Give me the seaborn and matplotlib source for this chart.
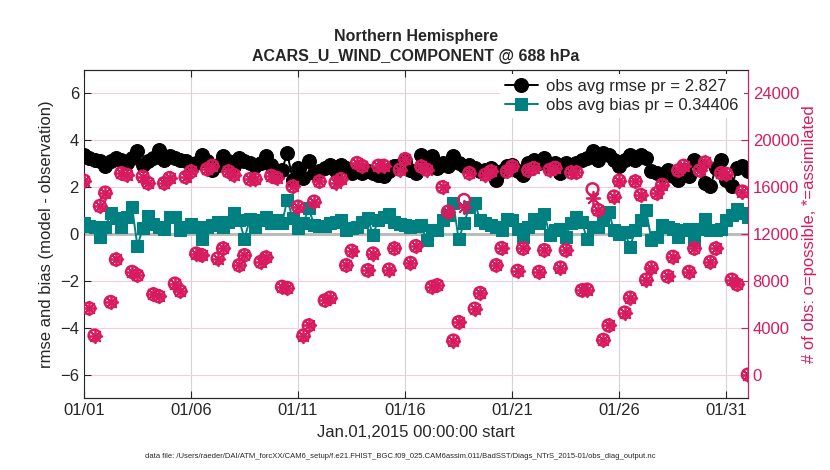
import pandas as pd
import numpy as np
import matplotlib
matplotlib.use('Agg')
import matplotlib.pyplot as plt
import matplotlib.dates as mdates
import seaborn as sns

# --- valores (6 em 6 horas, 01/01 00Z ate 01/02 00Z) ---
rmse = [3.39, 3.24, 3.17, 3.10, 2.91, 3.10, 3.24, 3.17, 3.03, 3.24,
        3.53, 2.96, 3.10, 3.24, 3.60, 3.17, 3.31, 3.24, 3.17, 3.10,
        3.00, 3.03, 3.39, 3.10, 2.74, 2.96, 3.31, 3.10, 2.89, 3.24,
        3.10, 3.03, 2.89, 3.03, 3.31, 2.96, 2.53, 2.74, 3.45, 2.31,
        2.80, 2.39, 3.10, 2.60, 2.67, 2.81, 2.96, 2.67, 2.96, 2.81,
        2.60, 2.67, 2.60, 2.67, 2.60, 2.53, 2.46, 2.67, 2.89, 2.96,
        3.10, 2.74, 2.60, 3.39, 3.17, 3.31, 2.81, 3.03, 2.89, 3.31,
        3.03, 2.89, 2.96, 2.81, 2.67, 2.74, 2.81, 2.31, 2.67, 2.89,
        2.96, 2.67, 2.53, 3.03, 3.17, 3.03, 3.24, 2.89, 3.03, 2.60,
        3.03, 2.96, 3.03, 3.17, 3.24, 3.53, 3.17, 3.46, 3.39, 3.17,
        2.92, 3.17, 3.39, 3.17, 3.39, 3.24, 2.67, 2.60, 2.46, 2.74,
        2.46, 2.31, 2.74, 2.46, 3.17, 2.96, 2.17, 2.03, 2.81, 3.17,
        2.31, 2.03, 2.81, 2.89, 2.67]

bias = [0.49, 0.34, 0.29, -0.14, 0.29, 0.89, 0.67, 0.29, 0.71, 1.17,
        -0.51, 0.24, 0.76, 0.44, 0.30, 0.20, 0.71, 0.71, 0.17, 0.29,
        0.42, 0.29, -0.23, 0.29, 0.39, 0.53, 0.29, 0.53, 0.89, 0.60,
        -0.19, 0.63, 0.29, 0.60, 0.71, 0.46, 0.60, 0.46, 1.46, 0.67,
        0.25, 0.46, 1.10, 0.39, 0.34, 0.34, 0.49, 0.53, 0.60, 0.17,
        0.24, 0.29, 0.53, 0.67, -0.04, 0.60, 0.74, 0.86, 0.53, 0.43,
        0.40, 0.31, 0.34, 0.39, -0.26, 0.17, 0.17, 0.60, 0.81, 1.31,
        -0.23, 0.46, 1.17, 1.34, 0.60, 0.49, 0.39, 0.31, 0.17, 0.63,
        0.60, 0.20, -0.11, 0.29, 0.63, 0.46, 0.86, -0.04, 0.17, 0.20,
        -0.11, 0.46, 0.71, 0.53, -0.23, 0.29, 0.29, 0.60, 0.96, 0.17,
        0.00, 0.10, -0.54, 0.17, 0.60, 1.03, -0.26, -0.11, 0.39, 0.29,
        0.20, -0.11, 0.17, 0.20, -0.26, 0.20, 0.63, 0.17, 0.17, 0.20,
        0.60, 0.81, 1.06, 0.89, 0.74]

obs_possible = [16570, 5660, 3340, 14400, 15540, 6200, 9830, 17200, 17060, 8770,
                8480, 16910, 16350, 6860, 6690, 16350, 16780, 7770, 7140, 16860,
                17340, 10340, 10200, 17540, 17830, 9910, 10770, 17340, 17060, 9340,
                10200, 16690, 16700, 9620, 10000, 16970, 16800, 7500, 7400, 16060,
                14340, 3340, 4200, 14770, 16490, 6340, 6570, 16400, 16690, 9340,
                10570, 18060, 17800, 8910, 10340, 17830, 17830, 8970, 10770, 17490,
                18400, 9540, 10970, 17770, 17500, 7490, 7630, 16000, 13910, 2910,
                4480, 14910, 17200, 5630, 6970, 17060, 17340, 9340, 10800, 17340,
                17770, 8860, 10770, 17430, 17630, 8770, 10630, 17480, 17660, 9140,
                10630, 17260, 17260, 7200, 7260, 15830, 14060, 2970, 4200, 15200,
                16560, 5300, 6570, 16490, 15340, 8110, 9140, 15490, 16200, 8400,
                10060, 17430, 17830, 8770, 10770, 17430, 18110, 9620, 10770, 17200,
                17140, 8110, 7710, 15630, 0]

obs_used = [16570, 5660, 3340, 14400, 15540, 6200, 9830, 17200, 17060, 8770,
            8480, 16910, 16350, 6860, 6690, 16350, 16780, 7770, 7140, 16860,
            17340, 10340, 10200, 17540, 17830, 9910, 10770, 17340, 17060, 9340,
            10200, 16690, 16700, 9620, 10000, 16970, 16800, 7500, 7400, 16060,
            14340, 3340, 4200, 14770, 16490, 6340, 6570, 16400, 16690, 9340,
            10570, 18060, 17800, 8910, 10340, 17830, 17830, 8970, 10770, 17490,
            18400, 9540, 10970, 17770, 17500, 7490, 7630, 16000, 13910, 2910,
            4480, 14300, 17200, 5630, 6970, 17060, 17340, 9340, 10800, 17340,
            17770, 8860, 10770, 17430, 17630, 8770, 10630, 17480, 17660, 9140,
            10630, 17260, 17260, 7200, 7260, 15100, 14060, 2970, 4200, 15200,
            16560, 5300, 6570, 16490, 15340, 8110, 9140, 15490, 16200, 8400,
            10060, 17430, 17830, 8770, 10770, 17430, 18110, 9620, 10770, 17200,
            17140, 8110, 7710, 15630, 0]

rmse_label = 'obs avg rmse pr = 2.827'
bias_label = 'obs avg bias pr = 0.34406'
x_ticks = ['2015-01-01', '2015-01-06', '2015-01-11', '2015-01-16',
           '2015-01-21', '2015-01-26', '2015-01-31']
left_ticks = [-6, -4, -2, 0, 2, 4, 6]
right_ticks = [0, 4000, 8000, 12000, 16000, 20000, 24000]

times = pd.date_range('2015-01-01 00:00', periods=len(rmse), freq='6h')
df = pd.DataFrame({'time': times, 'rmse': rmse, 'bias': bias,
                   'possible': obs_possible, 'used': obs_used})

MAGENTA = '#d81b5e'
TEAL = '#008080'

sns.set_style('ticks')
plt.rcParams['font.family'] = ['Liberation Sans', 'DejaVu Sans']

fig = plt.figure(figsize=(8.3, 4.7), dpi=100)
ax = fig.add_axes([0.101, 0.153, 0.800, 0.698])

# grades e linha do zero
ax.xaxis.grid(True, color='#d4d4d4', lw=0.8)
ax.yaxis.grid(True, color='#f3cfdc', lw=0.8)
ax.set_axisbelow(True)
ax.axhline(0, color='#bcbcbc', lw=2.2, zorder=1.5)

sns.lineplot(data=df, x='time', y='rmse', ax=ax, color='black', lw=1.4,
             marker='o', markersize=10, markeredgecolor='black',
             label=rmse_label, zorder=3)
sns.lineplot(data=df, x='time', y='bias', ax=ax, color=TEAL, lw=1.4,
             marker='s', markersize=8, markeredgecolor=TEAL,
             label=bias_label, zorder=3)

ax.set_ylim(-7, 7)
ax.set_yticks(left_ticks)
ax.set_xlim(times[0], pd.Timestamp('2015-02-01 00:00'))
ax.set_xticks(pd.to_datetime(x_ticks))
ax.xaxis.set_major_formatter(mdates.DateFormatter('%m/%d'))
ax.tick_params(direction='in', length=5, labelsize=12, top=True, right=False)
ax.set_xlabel('Jan.01,2015 00:00:00 start', fontsize=12, labelpad=5)
ax.set_ylabel('rmse and bias (model - observation)', fontsize=12, labelpad=4)
ax.get_legend().remove()

# eixo direito: numero de observacoes
ax2 = ax.twinx()
sns.scatterplot(data=df, x='time', y='possible', ax=ax2, marker='o', s=72,
                facecolors='none', edgecolor=MAGENTA, linewidth=1.8, zorder=4)
sns.scatterplot(data=df, x='time', y='used', ax=ax2, marker=(8, 2, 0), s=95,
                color=MAGENTA, linewidth=1.3, zorder=4)
ax2.set_ylim(-2000, 26000)
ax2.set_yticks(right_ticks)
ax2.tick_params(direction='in', length=5, labelsize=12, colors=MAGENTA)
ax2.set_ylabel('# of obs: o=possible, *=assimilated', fontsize=12,
               color=MAGENTA, labelpad=2)
ax2.spines['right'].set_color(MAGENTA)
ax2.spines['left'].set_visible(False)
ax2.set_xlim(ax.get_xlim())

handles, labels = ax.get_legend_handles_labels()
ax2.legend(handles, labels, loc='upper right', fontsize=12, frameon=True,
           facecolor='white', edgecolor='none', framealpha=1,
           borderaxespad=0.25, handlelength=2.0, handletextpad=0.5,
           labelspacing=0.2, borderpad=0.3)

fig.text(0.501, 1 - 37 / 470, 'Northern Hemisphere', ha='center', va='center',
         fontsize=11.5, weight='bold')
fig.text(0.501, 1 - 57 / 470, 'ACARS_U_WIND_COMPONENT @ 688 hPa', ha='center',
         va='center', fontsize=11.5, weight='bold')
fig.text(0.482, 1 - 456 / 470,
         'data file: /Users/raeder/DAI/ATM_forcXX/CAM6_setup/f.e21.FHIST_BGC.f09_025.'
         'CAM6assim.011/BadSST/Diags_NTrS_2015-01/obs_diag_output.nc',
         ha='center', va='center', fontsize=5.5)

plt.savefig('out.png', dpi=100)
